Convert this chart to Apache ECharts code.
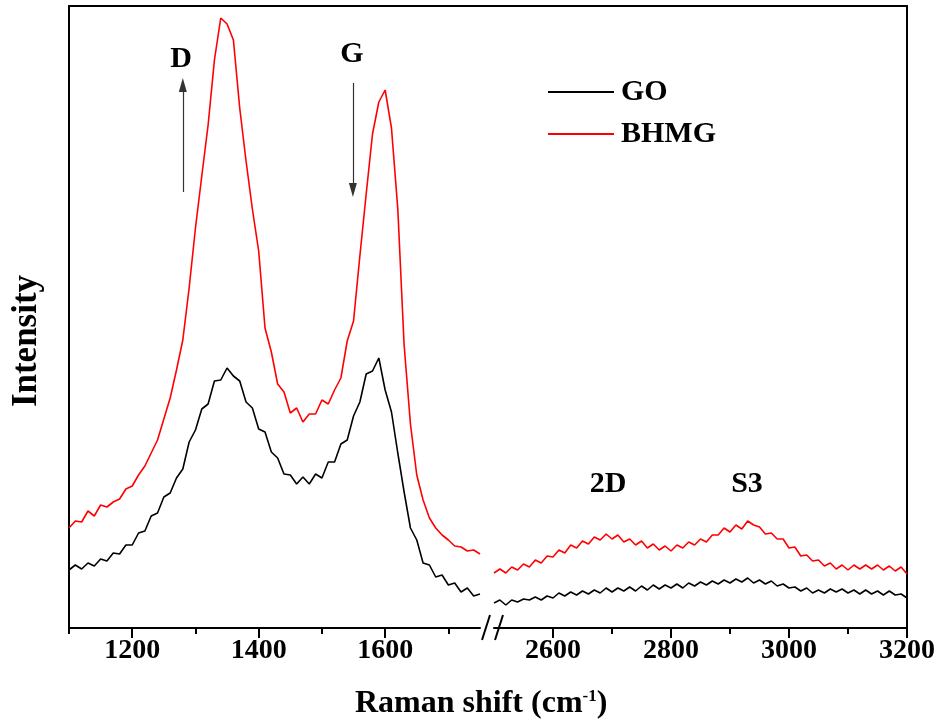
<!DOCTYPE html>
<html>
<head>
<meta charset="utf-8">
<script src="https://cdn.jsdelivr.net/npm/echarts@6/dist/echarts.min.js"></script>
<style>html,body{margin:0;padding:0;background:#fff}#chart{width:943px;height:724px}</style>
</head>
<body>
<div id="chart"></div>
<script>
// Raman shift (cm-1), low-wavenumber segment
var shiftLow = [1100,1110,1120,1130,1140,1150,1160,1170,1180,1190,1200,1210,1220,1230,1240,1250,1260,1270,1280,1290,1300,1310,1320,1330,1340,1350,1360,1370,1380,1390,1400,1410,1420,1430,1440,1450,1460,1470,1480,1490,1500,1510,1520,1530,1540,1550,1560,1570,1580,1590,1600,1610,1620,1630,1640,1650,1660,1670,1680,1690,1700,1710,1720,1730,1740,1750];
var goLow = [58,63,59,65,62,69,67,75,74,83,83,95,97,112,115,131,135,150,159,186,198,219,224,247,248,260,252,247,226,220,199,196,176,170,154,153,144,151,144,154,150,166,166,184,188,212,226,254,257,270,238,216,175,136,100,88,65,63,51,53,43,45,36,40,32,34];
var bhmgLow = [100,107,106,117,112,123,121,126,129,139,142,153,162,175,188,209,230,258,288,340,400,452,503,568,610,604,588,520,467,419,377,300,276,244,236,215,220,206,214,214,228,224,238,250,287,307,372,434,494,526,538,500,419,283,204,153,128,110,100,93,88,82,81,77,78,74];
// high-wavenumber segment
var shiftHigh = [2500,2510,2520,2530,2540,2550,2560,2570,2580,2590,2600,2610,2620,2630,2640,2650,2660,2670,2680,2690,2700,2710,2720,2730,2740,2750,2760,2770,2780,2790,2800,2810,2820,2830,2840,2850,2860,2870,2880,2890,2900,2910,2920,2930,2940,2950,2960,2970,2980,2990,3000,3010,3020,3030,3040,3050,3060,3070,3080,3090,3100,3110,3120,3130,3140,3150,3160,3170,3180,3190,3200];
var goHigh = [25,28,23,28,26,29,28,31,28,32,30,35,32,36,33,37,34,38,35,40,36,40,37,41,37,42,38,43,39,43,40,44,40,45,42,46,43,47,44,48,45,49,46,50,45,48,44,47,42,44,40,41,37,40,35,38,35,39,36,39,35,38,34,38,34,37,33,37,33,34,30];
var bhmgHigh = [55,59,55,61,58,64,61,68,65,72,71,78,75,83,80,87,84,91,88,94,89,93,86,89,83,87,80,84,78,82,77,83,80,86,83,89,86,93,93,100,96,103,99,107,103,101,94,95,89,89,80,81,72,73,67,68,62,65,59,63,58,63,59,63,59,63,58,62,57,61,54];
// tick labels
var lowMajor = [1200,1400,1600];
var lowMinor = [1100,1300,1500,1700];
var highMajor = [2600,2800,3000,3200];
var highMinor = [2700,2900,3100];
var seriesNames = ['GO','BHMG'];
var seriesColors = ['#000000','#ff0000'];

function pairs(xs, ys){ return xs.map(function(x,i){ return [x, ys[i]]; }); }

var FONT = 'Liberation Serif';
var chart = echarts.init(document.getElementById('chart'));
var axisLine = {show:true, lineStyle:{color:'#000', width:2}};
var labelStyle = {fontFamily:FONT, fontWeight:'bold', fontSize:28, color:'#000', margin:9,
  formatter:function(v){ return String(v); }};

function xMajor(gi, min, max, ticks){
  return {type:'value', gridIndex:gi, min:min, max:max, position:'bottom',
    axisLine: axisLine, splitLine:{show:false},
    axisTick:{show:true, length:10, lineStyle:{width:2,color:'#000'}, customValues:ticks},
    axisLabel: Object.assign({show:true, customValues:ticks}, labelStyle)};
}
function xMinor(gi, min, max, ticks){
  return {type:'value', gridIndex:gi, min:min, max:max, position:'bottom',
    axisLine:{show:false}, splitLine:{show:false},
    axisTick:{show:true, length:6, lineStyle:{width:2,color:'#000'}, customValues:ticks},
    axisLabel:{show:false}};
}
function xTop(gi, min, max){
  return {type:'value', gridIndex:gi, min:min, max:max, position:'top',
    axisLine: axisLine, axisTick:{show:false}, axisLabel:{show:false}, splitLine:{show:false}};
}

var option = {
  backgroundColor:'#fff',
  animation:false,
  title:{
    text:'Raman shift (cm{sup|-1})',
    left:350, top:683,
    textStyle:{fontFamily:FONT, fontWeight:'bold', fontSize:32, color:'#000',
      rich:{sup:{fontFamily:FONT, fontWeight:'bold', fontSize:17, color:'#000', verticalAlign:'top', padding:[0,0,14,0]}}}
  },
  legend:{
    data:seriesNames, orient:'vertical', left:543, top:72, itemGap:12,
    itemWidth:66, itemHeight:2, icon:'rect',
    textStyle:{fontFamily:FONT, fontWeight:'bold', fontSize:30, color:'#000', padding:[0,0,0,2]}
  },
  grid:[
    {left:69, top:6, width:411, bottom:96},
    {left:494, top:6, right:36, bottom:96}
  ],
  xAxis:[
    xMajor(0,1100,1750,lowMajor),
    xMinor(0,1100,1750,lowMinor),
    xTop(0,1100,1750),
    xMajor(1,2500,3200,highMajor),
    xMinor(1,2500,3200,highMinor),
    xTop(1,2500,3200)
  ],
  yAxis:[
    {type:'value', gridIndex:0, min:0, max:622, position:'left',
     axisLine:axisLine, axisTick:{show:false}, axisLabel:{show:false}, splitLine:{show:false}},
    {type:'value', gridIndex:1, min:0, max:622, position:'right',
     axisLine:axisLine, axisTick:{show:false}, axisLabel:{show:false}, splitLine:{show:false}}
  ],
  series:[
    {name:'GO', type:'line', xAxisIndex:0, yAxisIndex:0, data:pairs(shiftLow, goLow),
     showSymbol:false, lineStyle:{color:seriesColors[0], width:1.6}, itemStyle:{color:seriesColors[0]},
     markLine:{silent:true, symbol:['none','triangle'], symbolSize:[8,14], label:{show:false},
       lineStyle:{color:'#333', width:1.2, type:'solid'},
       data:[
         [{coord:[1280,436]},{coord:[1280,543]}],
         [{coord:[1549,545]},{coord:[1549,438]}]
       ]}},
    {name:'BHMG', type:'line', xAxisIndex:0, yAxisIndex:0, data:pairs(shiftLow, bhmgLow),
     showSymbol:false, lineStyle:{color:seriesColors[1], width:1.6}, itemStyle:{color:seriesColors[1]}},
    {name:'GO', type:'line', xAxisIndex:3, yAxisIndex:1, data:pairs(shiftHigh, goHigh),
     showSymbol:false, lineStyle:{color:seriesColors[0], width:1.6}, itemStyle:{color:seriesColors[0]}},
    {name:'BHMG', type:'line', xAxisIndex:3, yAxisIndex:1, data:pairs(shiftHigh, bhmgHigh),
     showSymbol:false, lineStyle:{color:seriesColors[1], width:1.6}, itemStyle:{color:seriesColors[1]}}
  ],
  graphic:[
    {type:'line', shape:{x1:479, y1:6, x2:495, y2:6}, style:{stroke:'#000', lineWidth:2}},
    {type:'line', shape:{x1:482, y1:640, x2:490, y2:615}, style:{stroke:'#000', lineWidth:2}},
    {type:'line', shape:{x1:495, y1:640, x2:503, y2:615}, style:{stroke:'#000', lineWidth:2}},
    {type:'text', x:27, y:341, rotation:Math.PI/2, style:{text:'Intensity', x:0, y:0, align:'center', verticalAlign:'middle', font:'bold 35px "Liberation Serif"', fill:'#000'}},
    {type:'text', x:181, y:59, style:{text:'D', x:0, y:0, align:'center', verticalAlign:'middle', font:'bold 30px "Liberation Serif"', fill:'#000'}},
    {type:'text', x:352, y:54, style:{text:'G', x:0, y:0, align:'center', verticalAlign:'middle', font:'bold 30px "Liberation Serif"', fill:'#000'}},
    {type:'text', x:608, y:484, style:{text:'2D', x:0, y:0, align:'center', verticalAlign:'middle', font:'bold 30px "Liberation Serif"', fill:'#000'}},
    {type:'text', x:747, y:484, style:{text:'S3', x:0, y:0, align:'center', verticalAlign:'middle', font:'bold 30px "Liberation Serif"', fill:'#000'}}
  ]
};
chart.setOption(option);
</script>
</body>
</html>
